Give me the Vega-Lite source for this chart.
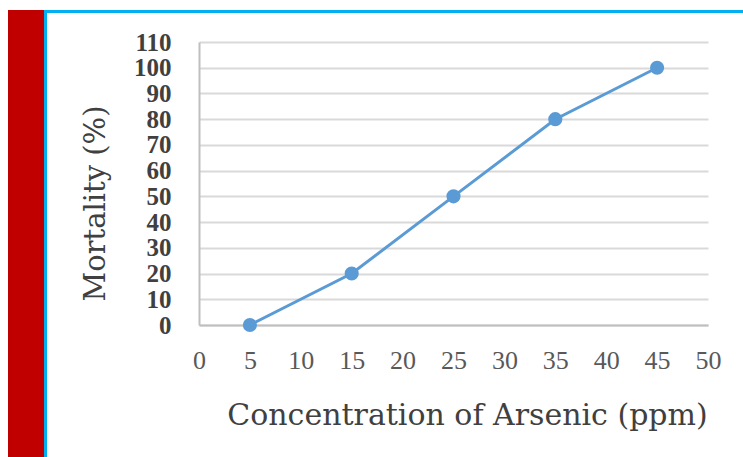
{
  "$schema": "https://vega.github.io/schema/vega-lite/v6.json",
  "background": "white",
  "padding": {"left": 8, "top": 10, "right": 0, "bottom": 0},
  "config": {"view": {"stroke": null}, "concat": {"spacing": 0}},
  "spacing": 0,
  "hconcat": [
    {"width": 36, "height": 447, "view": {"fill": "#c00000", "stroke": null}, "data": {"values": []}, "mark": "point", "encoding": {}},
    {"width": 3, "height": 447, "view": {"fill": "#00b0f0", "stroke": null}, "data": {"values": []}, "mark": "point", "encoding": {}},
    {
      "spacing": 17,
      "vconcat": [
        {"width": 696, "height": 3, "view": {"fill": "#00b0f0", "stroke": null}, "data": {"values": []}, "mark": "point", "encoding": {}},
        {
          "spacing": 0,
          "hconcat": [
            {"width": 34, "height": 10, "data": {"values": []}, "mark": "point", "encoding": {}},
            {
              "width": 509,
              "height": 283,
              "data": {"values": [
                {"conc": 5, "mortality": 0},
                {"conc": 15, "mortality": 20},
                {"conc": 25, "mortality": 50},
                {"conc": 35, "mortality": 80},
                {"conc": 45, "mortality": 100}
              ]},
              "encoding": {
                "x": {
                  "field": "conc", "type": "quantitative",
                  "scale": {"domain": [0, 50], "nice": false, "zero": false},
                  "axis": {
                    "title": "Concentration of Arsenic (ppm)",
                    "values": [0, 5, 10, 15, 20, 25, 30, 35, 40, 45, 50],
                    "grid": false,
                    "domain": true, "domainColor": "#bfbfbf", "domainWidth": 2,
                    "ticks": false, "tickSize": 0,
                    "labelFont": "Liberation Serif", "labelFontSize": 26, "labelColor": "#595959",
                    "labelPadding": 22, "labelFlush": false, "labelOverlap": false,
                    "titleFont": "DejaVu Serif", "titleFontSize": 30, "titleFontWeight": "normal", "titleColor": "#404040",
                    "titleX": 268, "titleY": 99, "titleBaseline": "alphabetic", "titleAlign": "center"
                  }
                },
                "y": {
                  "field": "mortality", "type": "quantitative",
                  "scale": {"domain": [0, 110], "nice": false},
                  "axis": {
                    "title": "Mortality (%)",
                    "values": [0, 10, 20, 30, 40, 50, 60, 70, 80, 90, 100, 110],
                    "grid": true, "gridColor": "#d9d9d9", "gridWidth": 2,
                    "domain": true, "domainColor": "#bfbfbf", "domainWidth": 2,
                    "ticks": false, "tickSize": 0,
                    "labelFont": "Liberation Serif", "labelFontSize": 25, "labelFontWeight": "bold", "labelColor": "#404040",
                    "labelPadding": 28, "labelOverlap": false, "labelFlush": false,
                    "titleFont": "DejaVu Serif", "titleFontSize": 29, "titleFontWeight": "normal", "titleColor": "#404040",
                    "titleAngle": -90, "titleX": -95, "titleY": 161, "titleBaseline": "alphabetic", "titleAlign": "center"
                  }
                }
              },
              "layer": [
                {"mark": {"type": "line", "color": "#5b9bd5", "strokeWidth": 3}},
                {"mark": {"type": "point", "filled": true, "color": "#5b9bd5", "size": 200, "opacity": 1}}
              ]
            }
          ]
        }
      ]
    }
  ]
}
